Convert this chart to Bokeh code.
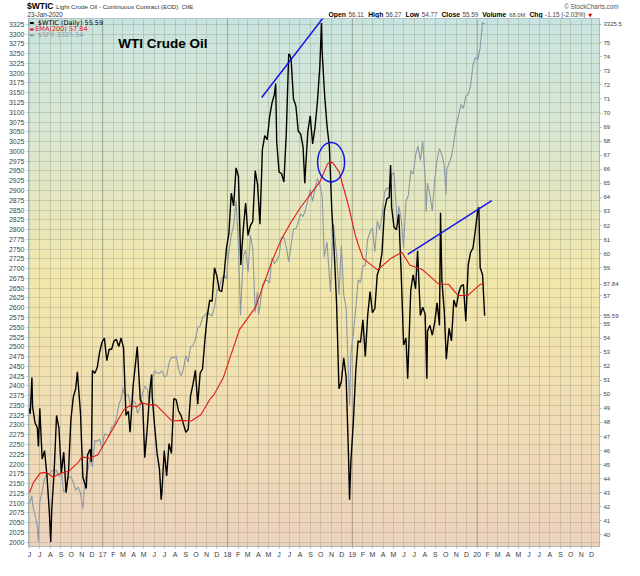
import numpy as np
import pandas as pd
from bokeh.plotting import figure
from bokeh.layouts import column
from bokeh.models import Range1d, LinearAxis, FixedTicker, Label, Span
from bokeh.embed import file_html
from bokeh.resources import INLINE

# ---------------- data ----------------
wti_dates = [
    "2016-06-01", "2016-06-03", "2016-06-08", "2016-06-10", "2016-06-17", "2016-06-24", "2016-06-27",
    "2016-07-01", "2016-07-08", "2016-07-15", "2016-07-22", "2016-07-29", "2016-08-02", "2016-08-05",
    "2016-08-12", "2016-08-19", "2016-08-26", "2016-09-02", "2016-09-09", "2016-09-16", "2016-09-23",
    "2016-09-30", "2016-10-07", "2016-10-14", "2016-10-19", "2016-10-21", "2016-10-28", "2016-11-04",
    "2016-11-14", "2016-11-18", "2016-11-25", "2016-11-29", "2016-12-02", "2016-12-09", "2016-12-16",
    "2016-12-23", "2016-12-30",
    "2017-01-06", "2017-01-13", "2017-01-20", "2017-01-27", "2017-02-03", "2017-02-10", "2017-02-17",
    "2017-02-24", "2017-03-03", "2017-03-10", "2017-03-17", "2017-03-22", "2017-03-24", "2017-03-31",
    "2017-04-07", "2017-04-12", "2017-04-21", "2017-04-28", "2017-05-04", "2017-05-12", "2017-05-19",
    "2017-05-24", "2017-05-26", "2017-06-02", "2017-06-09", "2017-06-16", "2017-06-21", "2017-06-23",
    "2017-06-30", "2017-07-07", "2017-07-14", "2017-07-21", "2017-07-28", "2017-08-04", "2017-08-11",
    "2017-08-18", "2017-08-25", "2017-09-01", "2017-09-08", "2017-09-15", "2017-09-22", "2017-09-29",
    "2017-10-06", "2017-10-13", "2017-10-20", "2017-10-27", "2017-11-03", "2017-11-10", "2017-11-17",
    "2017-11-24", "2017-12-01", "2017-12-08", "2017-12-15", "2017-12-22", "2017-12-29",
    "2018-01-05", "2018-01-12", "2018-01-19", "2018-01-26", "2018-02-02", "2018-02-09", "2018-02-16",
    "2018-02-23", "2018-03-02", "2018-03-09", "2018-03-16", "2018-03-23", "2018-03-30", "2018-04-06",
    "2018-04-13", "2018-04-20", "2018-04-27", "2018-05-04", "2018-05-11", "2018-05-18", "2018-05-22",
    "2018-05-25", "2018-06-01", "2018-06-08", "2018-06-15", "2018-06-22", "2018-06-29", "2018-07-03",
    "2018-07-06", "2018-07-13", "2018-07-20", "2018-07-27", "2018-08-03", "2018-08-10", "2018-08-15",
    "2018-08-17", "2018-08-24", "2018-08-31", "2018-09-07", "2018-09-14", "2018-09-21", "2018-09-28",
    "2018-10-03", "2018-10-05", "2018-10-12", "2018-10-19", "2018-10-26", "2018-11-02", "2018-11-09",
    "2018-11-16", "2018-11-23", "2018-11-30", "2018-12-07", "2018-12-14", "2018-12-21", "2018-12-24",
    "2018-12-28",
    "2019-01-04", "2019-01-11", "2019-01-18", "2019-01-25", "2019-02-01", "2019-02-08", "2019-02-15",
    "2019-02-22", "2019-03-01", "2019-03-08", "2019-03-15", "2019-03-22", "2019-03-29", "2019-04-05",
    "2019-04-12", "2019-04-19", "2019-04-23", "2019-04-26", "2019-05-03", "2019-05-10", "2019-05-17",
    "2019-05-24", "2019-05-31", "2019-06-07", "2019-06-12", "2019-06-14", "2019-06-21", "2019-06-28",
    "2019-07-05", "2019-07-11", "2019-07-19", "2019-07-26", "2019-08-02", "2019-08-07", "2019-08-09",
    "2019-08-16", "2019-08-23", "2019-08-30", "2019-09-06", "2019-09-13", "2019-09-16", "2019-09-20",
    "2019-09-27", "2019-10-03", "2019-10-11", "2019-10-18", "2019-10-25", "2019-11-01", "2019-11-08",
    "2019-11-15", "2019-11-22", "2019-11-29", "2019-12-06", "2019-12-13", "2019-12-20", "2019-12-27",
    "2020-01-03", "2020-01-06", "2020-01-10", "2020-01-17", "2020-01-23",
]
wti_close = [
    49.0, 48.6, 51.2, 49.1, 48.0, 47.6, 46.3,
    49.0, 45.4, 46.0, 44.2, 41.6, 39.5, 41.8,
    44.5, 48.5, 47.6, 44.4, 45.9, 43.0, 44.5,
    48.2, 49.8, 50.4, 51.6, 50.9, 48.7, 44.1,
    43.3, 45.7, 46.1, 45.2, 51.7, 51.5, 51.9,
    53.0, 53.7,
    54.0, 52.4, 53.2, 53.2, 53.8, 53.9, 53.4,
    54.0, 53.3, 48.5, 48.8, 47.3, 48.0, 50.6,
    52.2, 53.4, 49.6, 49.3, 45.5, 47.8, 50.3,
    51.4, 49.8, 47.7, 45.8, 44.7, 42.5, 43.0,
    46.0, 44.2, 46.5, 45.8, 49.7, 49.6, 48.8,
    48.5, 47.9, 47.3, 47.5, 49.9, 50.7, 51.7,
    49.3, 51.5, 51.8, 53.9, 55.6, 56.7, 56.6,
    59.0, 58.4, 57.4, 57.3, 58.5, 60.4,
    61.4, 64.3, 63.4, 66.1, 65.5, 59.2, 61.7,
    63.6, 61.3, 62.0, 62.3, 65.9, 64.9, 62.1,
    67.4, 68.4, 68.1, 69.7, 70.7, 71.3, 72.1,
    67.9, 65.8, 65.7, 65.1, 68.6, 74.2, 74.1,
    73.8, 71.0, 70.5, 68.7, 68.5, 67.6, 65.0,
    65.9, 68.7, 69.8, 67.8, 69.0, 70.8, 73.3,
    76.4, 74.3, 71.3, 69.1, 67.6, 63.1, 60.2,
    56.5, 50.4, 50.9, 52.6, 51.2, 45.6, 42.5,
    45.3,
    48.0, 51.6, 53.8, 53.7, 55.3, 52.7, 55.6,
    57.3, 55.8, 56.1, 58.5, 59.0, 60.1, 63.1,
    63.9, 64.0, 66.3, 63.3, 61.9, 61.7, 62.8,
    58.6, 53.5, 54.0, 51.1, 52.5, 57.4, 58.5,
    57.5, 60.2, 55.6, 56.2, 55.7, 51.1, 54.5,
    54.9, 54.2, 55.1, 56.5, 54.9, 62.9, 58.1,
    55.9, 52.5, 54.7, 53.8, 56.7, 56.2, 57.2,
    57.7, 57.8, 55.2, 59.2, 60.1, 60.4, 61.7,
    63.1, 63.3, 59.0, 58.5, 55.59,
]

spx_dates = [
    "2016-06-01", "2016-06-08", "2016-06-10", "2016-06-17", "2016-06-24", "2016-06-27", "2016-07-01",
    "2016-07-08", "2016-07-15", "2016-07-22", "2016-07-29", "2016-08-05", "2016-08-12", "2016-08-19",
    "2016-08-26", "2016-09-02", "2016-09-09", "2016-09-16", "2016-09-23", "2016-09-30", "2016-10-07",
    "2016-10-14", "2016-10-21", "2016-10-28", "2016-11-04", "2016-11-11", "2016-11-18", "2016-11-25",
    "2016-12-02", "2016-12-09", "2016-12-16", "2016-12-23", "2016-12-30",
    "2017-01-06", "2017-01-13", "2017-01-20", "2017-01-27", "2017-02-03", "2017-02-10", "2017-02-17",
    "2017-02-24", "2017-03-01", "2017-03-03", "2017-03-10", "2017-03-17", "2017-03-24", "2017-03-31",
    "2017-04-07", "2017-04-13", "2017-04-21", "2017-04-28", "2017-05-05", "2017-05-12", "2017-05-17",
    "2017-05-19", "2017-05-26", "2017-06-02", "2017-06-09", "2017-06-16", "2017-06-23", "2017-06-30",
    "2017-07-07", "2017-07-14", "2017-07-21", "2017-07-28", "2017-08-04", "2017-08-11", "2017-08-18",
    "2017-08-25", "2017-09-01", "2017-09-08", "2017-09-15", "2017-09-22", "2017-09-29", "2017-10-06",
    "2017-10-13", "2017-10-20", "2017-10-27", "2017-11-03", "2017-11-10", "2017-11-17", "2017-11-24",
    "2017-12-01", "2017-12-08", "2017-12-15", "2017-12-22", "2017-12-29",
    "2018-01-05", "2018-01-12", "2018-01-19", "2018-01-26", "2018-02-02", "2018-02-08", "2018-02-16",
    "2018-02-23", "2018-03-02", "2018-03-09", "2018-03-16", "2018-03-23", "2018-03-29", "2018-04-02",
    "2018-04-06", "2018-04-13", "2018-04-20", "2018-04-27", "2018-05-04", "2018-05-11", "2018-05-18",
    "2018-05-25", "2018-06-01", "2018-06-08", "2018-06-15", "2018-06-22", "2018-06-29", "2018-07-06",
    "2018-07-13", "2018-07-20", "2018-07-27", "2018-08-03", "2018-08-10", "2018-08-17", "2018-08-24",
    "2018-08-31", "2018-09-07", "2018-09-14", "2018-09-21", "2018-09-28", "2018-10-05", "2018-10-11",
    "2018-10-19", "2018-10-29", "2018-11-02", "2018-11-07", "2018-11-16", "2018-11-23", "2018-11-30",
    "2018-12-07", "2018-12-14", "2018-12-21", "2018-12-24", "2018-12-28",
    "2019-01-04", "2019-01-11", "2019-01-18", "2019-01-25", "2019-02-01", "2019-02-08", "2019-02-15",
    "2019-02-22", "2019-03-01", "2019-03-08", "2019-03-15", "2019-03-22", "2019-03-29", "2019-04-05",
    "2019-04-12", "2019-04-18", "2019-04-26", "2019-05-03", "2019-05-13", "2019-05-17", "2019-05-24",
    "2019-05-31", "2019-06-07", "2019-06-14", "2019-06-21", "2019-06-28", "2019-07-05", "2019-07-12",
    "2019-07-19", "2019-07-26", "2019-08-02", "2019-08-05", "2019-08-09", "2019-08-16", "2019-08-23",
    "2019-08-30", "2019-09-06", "2019-09-13", "2019-09-20", "2019-09-27", "2019-10-02", "2019-10-04",
    "2019-10-11", "2019-10-18", "2019-10-25", "2019-11-01", "2019-11-08", "2019-11-15", "2019-11-22",
    "2019-11-29", "2019-12-06", "2019-12-13", "2019-12-20", "2019-12-27",
    "2020-01-03", "2020-01-10", "2020-01-17", "2020-01-23",
]
spx_close = [
    2099, 2119, 2096, 2071, 2037, 2001, 2103,
    2130, 2162, 2175, 2174, 2183, 2184, 2184,
    2169, 2180, 2128, 2139, 2165, 2168, 2153,
    2133, 2141, 2126, 2085, 2164, 2182, 2213,
    2192, 2260, 2258, 2264, 2239,
    2277, 2275, 2271, 2295, 2297, 2316, 2351,
    2367, 2396, 2383, 2373, 2378, 2344, 2363,
    2355, 2329, 2349, 2384, 2399, 2390, 2357,
    2382, 2416, 2439, 2432, 2433, 2438, 2423,
    2425, 2459, 2473, 2472, 2476, 2441, 2426,
    2443, 2477, 2461, 2500, 2502, 2519, 2549,
    2553, 2575, 2581, 2588, 2582, 2579, 2602,
    2642, 2652, 2675, 2683, 2674,
    2743, 2786, 2810, 2873, 2762, 2581, 2732,
    2747, 2691, 2786, 2752, 2588, 2641, 2582,
    2604, 2656, 2670, 2670, 2663, 2728, 2713,
    2721, 2735, 2779, 2780, 2755, 2718, 2760,
    2801, 2802, 2819, 2840, 2833, 2850, 2875,
    2902, 2872, 2905, 2930, 2914, 2886, 2729,
    2768, 2641, 2723, 2814, 2736, 2633, 2760,
    2633, 2600, 2417, 2351, 2486,
    2532, 2596, 2671, 2665, 2707, 2708, 2776,
    2793, 2804, 2743, 2822, 2800, 2834, 2893,
    2907, 2905, 2940, 2946, 2812, 2860, 2826,
    2752, 2873, 2887, 2950, 2942, 2990, 3014,
    2977, 3026, 2932, 2845, 2919, 2889, 2847,
    2926, 2979, 3007, 2992, 2962, 2888, 2952,
    2970, 2986, 3023, 3067, 3093, 3120, 3110,
    3141, 3146, 3169, 3221, 3240,
    3235, 3265, 3330, 3325.54,
]

ema_dates = [
    "2016-06-01", "2016-06-12", "2016-07-02", "2016-07-21", "2016-08-09", "2016-08-27", "2016-09-25",
    "2016-10-23", "2016-11-01", "2016-11-25", "2016-12-18", "2017-01-25", "2017-03-04", "2017-03-22",
    "2017-04-10", "2017-04-24", "2017-05-18", "2017-06-06", "2017-06-24", "2017-07-23", "2017-08-20",
    "2017-09-17", "2017-10-15", "2017-11-12", "2017-11-22", "2017-12-20", "2018-02-05", "2018-03-24",
    "2018-05-10", "2018-06-07", "2018-07-05", "2018-08-03", "2018-08-31", "2018-09-28", "2018-10-21",
    "2018-11-04", "2018-11-24", "2018-12-22", "2019-01-10", "2019-01-19", "2019-02-02", "2019-03-16",
    "2019-04-23", "2019-05-26", "2019-06-18", "2019-07-26", "2019-09-11", "2019-10-09", "2019-11-06",
    "2019-12-05", "2020-01-11", "2020-01-23",
]
ema_values = [
    43.0, 43.7, 44.4, 44.45, 44.1, 44.35, 44.55,
    45.2, 45.55, 45.45, 45.7, 47.3, 48.9, 49.2,
    49.1, 49.4, 49.25, 49.25, 48.8, 48.1, 48.15,
    48.1, 48.55, 49.7, 49.95, 51.2, 54.6, 56.2,
    59.4, 61.0, 62.2, 63.3, 64.2, 65.1, 66.4,
    66.5, 65.8, 63.3, 61.3, 60.6, 59.65, 58.85,
    59.65, 60.1, 59.2, 58.85, 57.83, 57.83, 57.03,
    57.03, 57.83, 57.84,
]

month_letters = ["J", "F", "M", "A", "M", "J", "J", "A", "S", "O", "N", "D"]
year_labels = ["17", "18", "19", "20"]
left_ticks = list(range(2000, 3326, 25))
right_ticks = list(range(40, 77))
last_wti, last_ema, last_spx = 55.59, 57.84, 3325.54
quote_fields = ["Open", "High", "Low", "Close", "Volume", "Chg"]
quote_values = ["56.11", "56.27", "54.77", "55.59", "68.0M", "-1.15 (-2.03%)"]

# hand-drawn annotations on the chart
trend_dates = [["2018-04-11", "2018-10-17"], ["2019-06-12", "2020-02-13"]]
trend_values = [[71.1, 77.06], [59.95, 63.77]]
circle_date = "2018-10-31"
circle_value = 66.5
circle_width_days = 79
circle_height = 2.8

# ---------------- geometry ----------------
X0 = pd.Timestamp("2016-05-29")
X1 = pd.Timestamp("2020-12-24")
Y0, Y1 = 1989.0, 3340.0
W0, W1 = 39.18, 76.72
REF_L, REF_R, REF_T, REF_B = 28.0, 620.0, 18.0, 565.0
W, HDR_H, MAIN_H = 624, 18, 542
BL, BR, BB = 28, 23, 13
FW = W - BL - BR


def ms(ts):
    return pd.Timestamp(ts).value / 1e6


X0ms, X1ms = ms(X0), ms(X1)


def rx(px):
    return X0ms + (X1ms - X0ms) * (px - REF_L) / (REF_R - REF_L)


def ry(py):
    return Y1 - (Y1 - Y0) * (py - REF_T) / (REF_B - REF_T)


def hx(px):
    return BL + (px - REF_L) * FW / (REF_R - REF_L)


# approximate Arial advance widths (per em) to lay text pieces side by side
_REG = {" ": .278, "$": .556, "%": .889, "(": .333, ")": .333, "-": .333, ".": .278, "M": .833,
        "L": .556, "C": .722, "D": .722, "E": .667, "O": .778, "T": .611, "W": .944, "I": .278,
        "a": .556, "c": .5, "d": .556, "e": .556, "g": .556, "h": .556, "i": .222, "l": .222,
        "n": .556, "o": .556, "r": .333, "s": .5, "t": .278, "u": .556}
_BOLD = {"O": .778, "p": .611, "e": .556, "n": .611, "H": .722, "i": .278, "g": .611, "h": .611,
         "L": .611, "o": .611, "w": .778, "C": .722, "l": .278, "s": .556, "V": .667, "u": .611,
         "m": .889, "$": .556, "W": .944, "T": .611, "I": .278}


def textw(s, size, bold=False):
    tab = _BOLD if bold else _REG
    return sum(tab.get(ch, .556) for ch in s) * size


FONT = "Liberation Sans"

# ---------------- header strip ----------------
hdr = figure(width=W, height=HDR_H, x_range=Range1d(0, W), y_range=Range1d(HDR_H, 0),
             output_backend="svg", toolbar_location=None, min_border=0,
             x_axis_location=None, y_axis_location=None)
try:
    hdr.frame_align = False
except Exception:
    pass
hdr.title.visible = False
hdr.outline_line_color = None
hdr.xgrid.visible = False
hdr.ygrid.visible = False
hdr.background_fill_color = "white"
hdr.border_fill_color = "white"


def hlabel(txt, x, y, size, bold, col, font=FONT, align="left"):
    hdr.add_layout(Label(x=x, y=y, text=txt, text_font=font, text_font_size="%gpx" % size,
                         text_font_style="bold" if bold else "normal", text_color=col,
                         text_align=align, text_baseline="middle"))


# first line: symbol and name
x = 26.5
hlabel("$WTIC", x, 5.8, 8.5, True, "black")
x += textw("$WTIC", 8.5, True) + 2.5
name = "Light Crude Oil - Continuous Contract (EOD)"
hlabel(name, x, 6.2, 6.2, False, "#333333")
x += textw(name, 6.2) + 3
hlabel("CME", x, 6.2, 5.3, False, "#333333")
hlabel("© StockCharts.com", W - 6, 5.6, 6.3, False, "#555555", align="right")

# second line: date and quote
hlabel("23-Jan-2020", 27.0, 14.2, 6.3, False, "#333333")
x = hx(338)
for f, v in zip(quote_fields, quote_values):
    hlabel(f, x, 14.2, 6.8, True, "black")
    x += textw(f, 6.8, True) + 2.5
    vs = 5.8 if f == "Volume" else 6.3
    hlabel(v, x, 14.2, vs, False, "#444444")
    x += textw(v, vs) + 4
hlabel("▼", x - 1, 14.0, 5, False, "#cc0000", font="DejaVu Sans")

# ---------------- main chart ----------------
p = figure(width=W, height=MAIN_H, x_axis_type="datetime",
           x_range=Range1d(X0ms, X1ms), y_range=Range1d(Y0, Y1),
           output_backend="svg", toolbar_location=None,
           min_border_left=BL, min_border_right=BR, min_border_top=0, min_border_bottom=BB)
p.title.visible = False
p.extra_y_ranges = {"wti": Range1d(W0, W1)}
p.outline_line_color = "#a8bcc0"
p.background_fill_color = "#f0e4b0"
p.border_fill_color = "white"

# background gradient
grad_pos = [0.0, 0.22, 0.5, 0.75, 1.0]
grad_rgb = [(200, 228, 224), (217, 231, 210), (242, 231, 169), (240, 221, 180), (236, 210, 189)]
nb = 110
edges = np.linspace(0, 1, nb + 1)
cols = []
for i in range(nb):
    f = (edges[i] + edges[i + 1]) / 2
    rgb = [int(round(np.interp(f, grad_pos, [c[k] for c in grad_rgb]))) for k in range(3)]
    cols.append("#%02x%02x%02x" % tuple(rgb))
tops = Y1 - edges[:-1] * (Y1 - Y0)
bots = Y1 - edges[1:] * (Y1 - Y0) - 2
p.quad(left=X0ms, right=X1ms, top=tops, bottom=bots, fill_color=cols, line_color=None, level="image")

# x axis: month ticks, year number at each January
months = pd.date_range("2016-06-01", "2020-12-01", freq="MS")
month_ms = [ms(m) for m in months]
overrides = {}
yi = 0
for m, t in zip(months, month_ms):
    if m.month == 1:
        overrides[t] = year_labels[yi]
        yi += 1
    else:
        overrides[t] = month_letters[m.month - 1]
p.xaxis.ticker = FixedTicker(ticks=month_ms)
p.xaxis.major_label_overrides = overrides
p.xaxis.major_label_text_font = FONT
p.xaxis.major_label_text_font_size = "7px"
p.xaxis.major_label_text_color = "#3a3a3a"
p.xaxis.major_label_standoff = 2
p.xaxis.major_tick_out = 2
p.xaxis.major_tick_in = 0
p.xaxis.minor_tick_line_color = None
p.xaxis.axis_line_color = "#a8bcc0"
p.xaxis.major_tick_line_color = "#a8bcc0"

# left axis (SPX)
p.yaxis.ticker = FixedTicker(ticks=left_ticks)
p.yaxis.major_label_text_font = FONT
p.yaxis.major_label_text_font_size = "7px"
p.yaxis.major_label_text_color = "#444444"
p.yaxis.major_label_standoff = 2
p.yaxis.major_tick_out = 2
p.yaxis.major_tick_in = 0
p.yaxis.minor_tick_line_color = None
p.yaxis.axis_line_color = "#a8bcc0"
p.yaxis.major_tick_line_color = "#a8bcc0"

# right axis (WTI) with last-value tags
spx_on_wti = W0 + (W1 - W0) * (last_spx - Y0) / (Y1 - Y0)
r_ticks = [t for t in right_ticks if t not in (56, 58, 76)] + [last_wti, last_ema, spx_on_wti]
r_over = {float(t): str(t) for t in right_ticks if t not in (56, 58, 76)}
r_over[last_wti] = "%.2f" % last_wti
r_over[last_ema] = "%.2f" % last_ema
r_over[spx_on_wti] = "%.1f" % last_spx
ax_r = LinearAxis(y_range_name="wti", ticker=FixedTicker(ticks=r_ticks))
ax_r.major_label_overrides = r_over
ax_r.major_label_text_font = FONT
ax_r.major_label_text_font_size = "6px"
ax_r.major_label_text_color = "#444444"
ax_r.major_label_standoff = 2
ax_r.major_tick_out = 2
ax_r.major_tick_in = 0
ax_r.minor_tick_line_color = None
ax_r.axis_line_color = "#a8bcc0"
ax_r.major_tick_line_color = "#a8bcc0"
p.add_layout(ax_r, "right")

# grid
for g in (p.xgrid, p.ygrid):
    g.grid_line_color = "#9c9c80"
    g.grid_line_alpha = 0.38
    g.grid_line_width = 1

year_ms = [ms(m) for m in months if m.month == 1]
for t in year_ms:
    p.add_layout(Span(location=t, dimension="height", line_color="#8a8a74",
                      line_alpha=0.55, line_width=1, level="underlay"))

# series
spx_x = pd.to_datetime(spx_dates)
wti_x = pd.to_datetime(wti_dates)
ema_x = pd.to_datetime(ema_dates)
p.line(spx_x, spx_close, line_color="#8c98a4", line_width=1.1)
p.line(wti_x, wti_close, line_color="black", line_width=1.4, y_range_name="wti")
p.line(ema_x, ema_values, line_color="#e01818", line_width=1.1, y_range_name="wti")

# annotations
for d, v in zip(trend_dates, trend_values):
    p.line(pd.to_datetime(d), v, line_color="#1414f0", line_width=1.5, y_range_name="wti")
p.ellipse(x=[ms(circle_date)], y=[circle_value], width=circle_width_days * 86400000.0,
          height=circle_height, fill_color=None, line_color="#1414f0", line_width=1.5,
          y_range_name="wti")

# legend inside the frame
leg = [("$WTIC (Daily) %.2f" % last_wti, "black", 22.7, 37.7),
       ("EMA(200) %.2f" % last_ema, "#e01818", 29.3, 35.0),
       ("$SPX %.2f" % last_spx, "#8c98a4", 35.3, 37.7)]
for txt, col, yy, xx in leg:
    p.segment(x0=rx(29.5), y0=ry(yy), x1=rx(33.5), y1=ry(yy), line_color=col, line_width=2)
    p.add_layout(Label(x=rx(xx), y=ry(yy), text=txt, text_font="DejaVu Sans", text_font_size="6.5px",
                       text_color=col, text_baseline="middle"))

p.add_layout(Label(x=rx(121), y=ry(43.5), text="WTI Crude Oil", text_font=FONT,
                   text_font_size="13.5px", text_font_style="bold", text_color="black",
                   text_baseline="middle"))

layout = column(hdr, p, spacing=0)
open("out.html", "w").write(file_html(layout, INLINE))
